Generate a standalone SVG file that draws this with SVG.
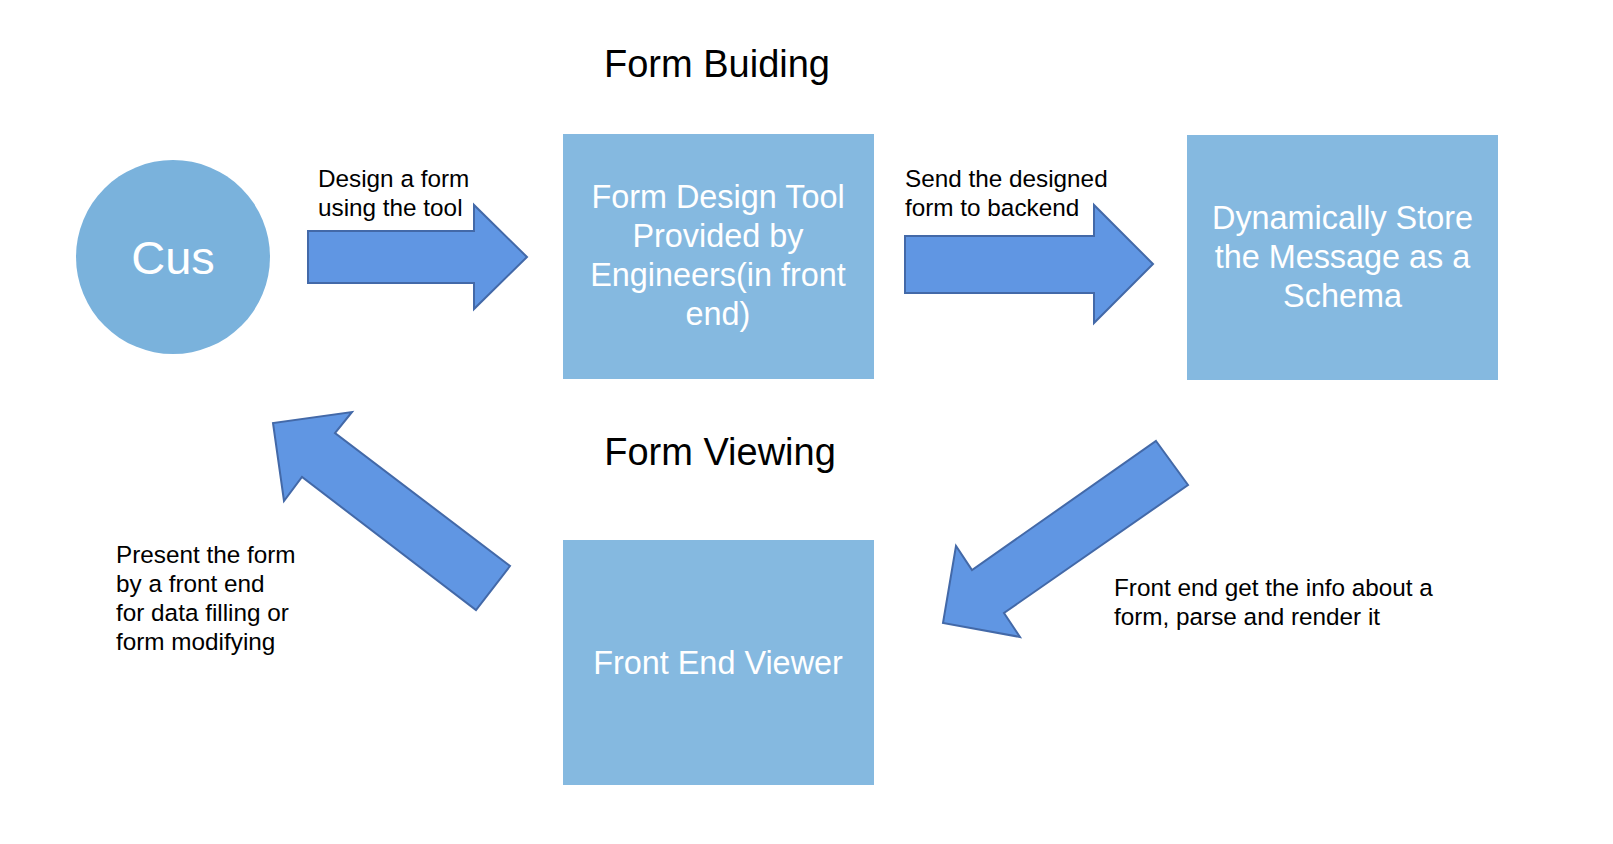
<svg xmlns="http://www.w3.org/2000/svg" width="1613" height="844" viewBox="0 0 1613 844">
<style>
.box{fill:#85b9e0;}
.circ{fill:#7ab2dc;}
.arr{fill:#6096e3;stroke:#4369a8;stroke-width:2;stroke-linejoin:miter;}
.wt{fill:#ffffff;font-family:"Liberation Sans",Arial,sans-serif;font-size:32.4px;text-anchor:middle;}
.lbl{fill:#000000;font-family:"Liberation Sans",Arial,sans-serif;font-size:24.3px;}
.title{fill:#000000;font-family:"Liberation Sans",Arial,sans-serif;font-size:38px;text-anchor:middle;}
</style>
<rect width="1613" height="844" fill="#ffffff"/>
<text class="title" x="717" y="77">Form Buiding</text>
<text class="title" x="720" y="465">Form Viewing</text>

<g id="node-cus">
<circle class="circ" cx="173" cy="257" r="97"/>
<text class="wt" x="173" y="274" style="font-size:47px">Cus</text>
</g>

<g id="node-design-tool">
<rect class="box" x="563" y="134" width="311" height="245"/>
<text class="wt" x="718" y="208">Form Design Tool</text>
<text class="wt" x="718" y="247">Provided by</text>
<text class="wt" x="718" y="286">Engineers(in front</text>
<text class="wt" x="718" y="325">end)</text>
</g>

<g id="node-store">
<rect class="box" x="1187" y="135" width="311" height="245"/>
<text class="wt" x="1342.5" y="229">Dynamically Store</text>
<text class="wt" x="1342.5" y="268">the Message as a</text>
<text class="wt" x="1342.5" y="307">Schema</text>
</g>

<g id="node-viewer">
<rect class="box" x="563" y="540" width="311" height="245"/>
<text class="wt" x="718" y="674">Front End Viewer</text>
</g>

<g id="connectors">
<polygon class="arr" points="308,231 474,231 474,205 527,257 474,309 474,283 308,283"/>
<polygon class="arr" points="905,236 1094,236 1094,205 1153,264 1094,323 1094,293 905,293"/>
<polygon class="arr" points="1156,441 1188,485 1004,613 1020,637 943,623 956,546 972,570"/>
<polygon class="arr" points="510,566 476,610 302,477 284,501 273,423 352,412 335,433"/>
</g>

<g id="labels">
<text class="lbl" x="318" y="187">Design a form</text>
<text class="lbl" x="318" y="216">using the tool</text>
<text class="lbl" x="905" y="187">Send the designed</text>
<text class="lbl" x="905" y="216">form to backend</text>
<text class="lbl" x="116" y="563">Present the form</text>
<text class="lbl" x="116" y="592">by a front end</text>
<text class="lbl" x="116" y="621">for data filling or</text>
<text class="lbl" x="116" y="650">form modifying</text>
<text class="lbl" x="1114" y="596">Front end get the info about a</text>
<text class="lbl" x="1114" y="625">form, parse and render it</text>
</g>
</svg>
